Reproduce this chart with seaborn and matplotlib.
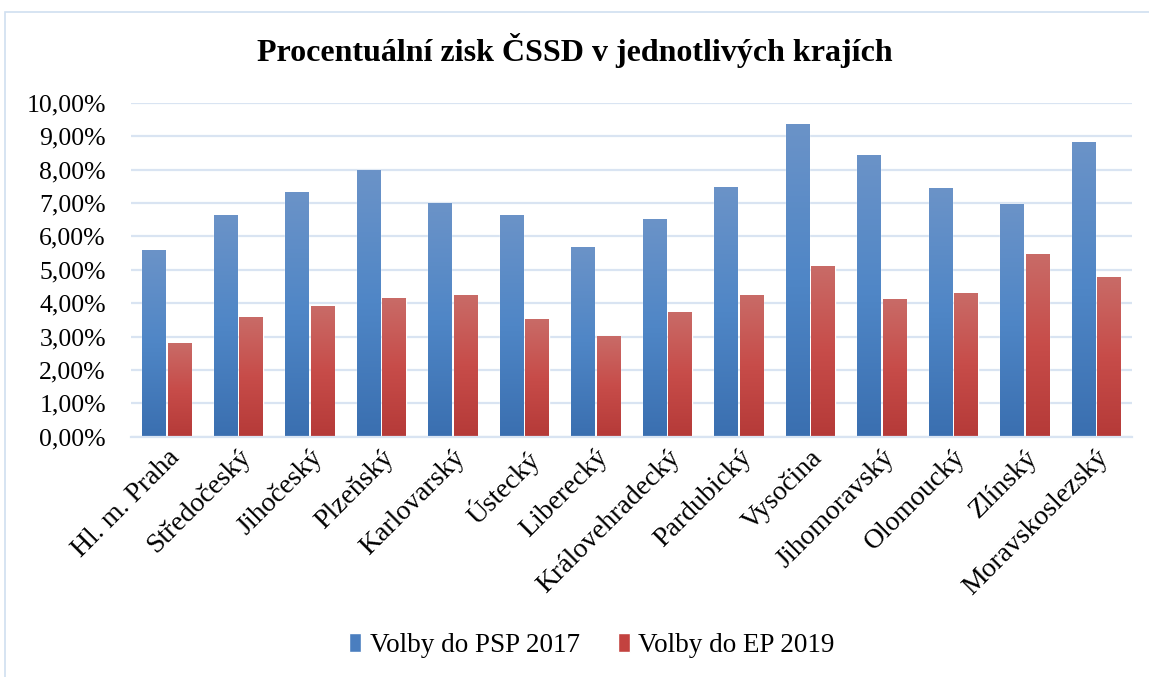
import numpy as np
import pandas as pd
import matplotlib
matplotlib.use("Agg")
import matplotlib.pyplot as plt
import seaborn as sns
from matplotlib.ticker import FuncFormatter, MultipleLocator
from matplotlib.colors import LinearSegmentedColormap
from matplotlib.patches import Rectangle

regions = ["Hl. m. Praha", "Středočeský", "Jihočeský", "Plzeňský", "Karlovarský",
           "Ústecký", "Liberecký", "Královehradecký", "Pardubický", "Vysočina",
           "Jihomoravský", "Olomoucký", "Zlínský", "Moravskoslezský"]
psp_2017 = [5.58, 6.63, 7.32, 7.98, 6.99, 6.63, 5.67, 6.51, 7.47, 9.38, 8.45, 7.44, 6.96, 8.84]
ep_2019 = [2.80, 3.58, 3.91, 4.15, 4.24, 3.52, 3.01, 3.73, 4.24, 5.10, 4.12, 4.30, 5.46, 4.78]
series = ["Volby do PSP 2017", "Volby do EP 2019"]
title = "Procentuální zisk ČSSD v jednotlivých krajích"

df = pd.DataFrame({
    "kraj": regions * 2,
    "hodnota": psp_2017 + ep_2019,
    "volby": [series[0]] * len(regions) + [series[1]] * len(regions),
})

sns.set_theme(style="white")
plt.rcParams["font.family"] = ["Liberation Serif", "DejaVu Serif"]
plt.rcParams["text.color"] = "black"
plt.rcParams["xtick.color"] = "black"
plt.rcParams["ytick.color"] = "black"

blue_mid = "#4a7ebf"
red_mid = "#c3423f"
fig = plt.figure(figsize=(11.49, 6.77), dpi=100)
ax = fig.add_axes([0.114, 0.355, 0.871, 0.493])

sns.barplot(data=df, x="kraj", y="hodnota", hue="volby", order=regions,
            hue_order=series, palette=[blue_mid, red_mid], width=0.72, gap=0.1,
            saturation=1, ax=ax, legend=True)

ax.set_ylim(0, 10)
ax.set_xlim(-0.5, len(regions) - 0.5)
ax.yaxis.set_major_locator(MultipleLocator(1))
ax.yaxis.set_major_formatter(FuncFormatter(lambda v, p: f"{v:.2f}".replace(".", ",") + "%"))
ax.grid(axis="y", color="#d9e4f2", linewidth=1.6)
ax.set_axisbelow(True)
for s in ["top", "right", "left"]:
    ax.spines[s].set_visible(False)
ax.spines["bottom"].set_color("#d9e4f2")
ax.spines["bottom"].set_linewidth(1.6)
ax.tick_params(axis="y", length=0, labelsize=18.5, labelcolor="black", pad=18)
ax.tick_params(axis="x", length=0, labelsize=20, labelcolor="black", pad=6)
ax.set_xlabel("")
ax.set_ylabel("")
plt.setp(ax.get_xticklabels(), rotation=45, ha="right", rotation_mode="anchor")

# vertical gradients on bars
cmaps = {
    blue_mid: LinearSegmentedColormap.from_list("b", ["#3a6fb0", "#4f86c6", "#6b93c8"]),
    red_mid: LinearSegmentedColormap.from_list("r", ["#b53a38", "#c74c49", "#c96b67"]),
}
grad = np.linspace(0, 1, 256).reshape(-1, 1)
for patch in list(ax.patches):
    fc = matplotlib.colors.to_hex(patch.get_facecolor())
    cm = cmaps[blue_mid] if fc.lower() == blue_mid else cmaps[red_mid]
    x0, y0 = patch.get_x(), patch.get_y()
    w, h = patch.get_width(), patch.get_height()
    if h <= 0:
        continue
    im = ax.imshow(grad, cmap=cm, origin="lower", aspect="auto",
                   extent=[x0, x0 + w, y0, y0 + h], zorder=patch.get_zorder() + 0.1)
    im.set_clip_path(patch)
ax.set_xlim(-0.5, len(regions) - 0.5)
ax.set_ylim(0, 10)

handles, labels = ax.get_legend_handles_labels()
ax.get_legend().remove()
fig.legend(handles, labels, loc="center", bbox_to_anchor=(0.515, 0.046), ncol=2,
           frameon=False, fontsize=19.5, handlelength=0.45, handleheight=0.7,
           handletextpad=0.3, columnspacing=1.4)

fig.text(0.5, 0.925, title, ha="center", va="center", fontsize=23, fontweight="bold")

fig.patches.append(Rectangle((0.004, -0.01), 1.0, 0.992, transform=fig.transFigure,
                             fill=False, edgecolor="#d0dff0", linewidth=1.2))

fig.savefig("out.png", dpi=100, facecolor="white")
